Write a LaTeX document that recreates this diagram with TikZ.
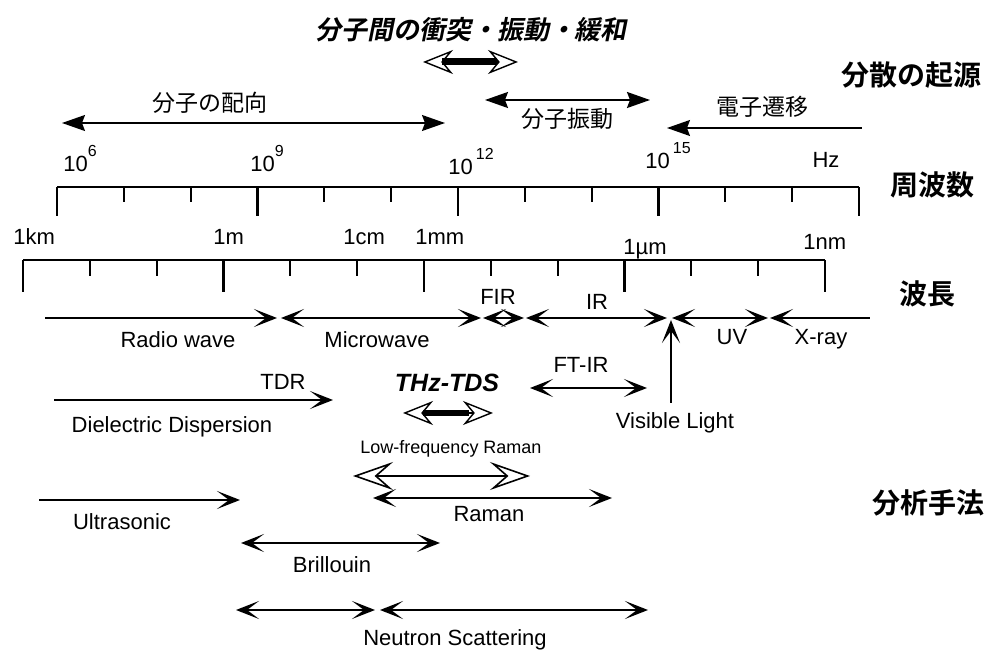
\documentclass[tikz,border=0pt]{standalone}
\usepackage{fontspec}
\setmainfont{Liberation Sans}
\newfontfamily\jpfont{Noto Sans CJK JP}
\newfontfamily\jpbold{Noto Sans CJK JP Bold}
\newfontfamily\jptitle[FakeSlant=0.2]{Noto Sans CJK JP Bold}
\usetikzlibrary{arrows.meta, positioning}
\newcommand\expo[1]{\raisebox{7.5pt}{\fontsize{8}{8}\selectfont #1}}

\tikzset{
  barbtip/.tip={Stealth[length=11.5pt, width=9pt, inset=6pt]},
  disptip/.tip={Stealth[length=11.5pt, width=8pt, inset=1.5pt]},
  holtip/.tip={Stealth[open, fill=white, length=15pt, width=12pt, inset=5pt]},
  bigholtip/.tip={Stealth[open, fill=white, length=20pt, width=14pt, inset=8pt]}
}

\begin{document}
\begin{tikzpicture}[x=0.5pt, y=-0.5pt,
    lbl/.style={inner sep=0pt, font=\fontsize{11}{13}\selectfont},
    jplbl/.style={inner sep=0pt, font=\jpfont\fontsize{11.5}{13}\selectfont},
    rowhead/.style={inner sep=0pt, font=\jpbold\fontsize{14}{16}\selectfont},
    axisline/.style={line width=1.1pt},
    bandline/.style={line width=0.75pt},
    displine/.style={line width=0.7pt}]
    \useasboundingbox (0,0) rectangle (987,652);

    % Headings on the right
    \node[rowhead] (hOrigin) at (911,75)  {分散の起源};
    \node[rowhead] (hFreq)   at (932,185) {周波数};
    \node[rowhead] (hWave)   at (927,294) {波長};
    \node[rowhead] (hMethod) at (928,503) {分析手法};

    % Origin of dispersion
    \node[inner sep=0pt, font=\jptitle\fontsize{13}{15}\selectfont] (title) at (471,30) {分子間の衝突・振動・緩和};
    \coordinate (col1) at (423,62);  \coordinate (col2) at (518,62);
    \coordinate (col3) at (442,62);  \coordinate (col4) at (497,62);
    \draw[line width=0.7pt, holtip-holtip] (col1) -- (col2);
    \draw[line width=3.5pt] (col3) -- (col4);

    \node[jplbl] (ori) at (210,103) {分子の配向};
    \coordinate (ori1) at (62,123);  \coordinate (ori2) at (445,123);
    \draw[displine, disptip-disptip] (ori1) -- (ori2);

    \node[jplbl] (vib) at (567,119) {分子振動};
    \coordinate (vib1) at (485,100); \coordinate (vib2) at (650,100);
    \draw[displine, line width=0.9pt, disptip-disptip] (vib1) -- (vib2);

    \node[jplbl] (ele) at (762,107) {電子遷移};
    \coordinate (ele1) at (667,128); \coordinate (ele2) at (862,128);
    \draw[displine, disptip-] (ele1) -- (ele2);

    % Frequency axis
    \draw[axisline] (57,187) -- (859,187);
    \foreach \i in {0,...,12}{
      \pgfmathsetmacro\tx{57+66.83*\i}
      \pgfmathsetmacro\tl{mod(\i,3)==0 ? 29 : 15}
      \draw[axisline] (\tx,187) -- ++(0,\tl);
    }
    \node[lbl, anchor=base west] (f6)  at (63,172)  {10\expo{6}};
    \node[lbl, anchor=base west] (f9)  at (250,172) {10\expo{9}};
    \node[lbl, anchor=base west] (f12) at (448,175) {10\kern1.5pt\expo{12}};
    \node[lbl, anchor=base west] (f15) at (645,169) {10\kern1.5pt\expo{15}};
    \node[lbl, anchor=base] (hz) at (826,168) {Hz};

    % Wavelength axis
    \draw[axisline] (23,260) -- (825,260);
    \foreach \i in {0,...,12}{
      \pgfmathsetmacro\tx{23+66.83*\i}
      \pgfmathsetmacro\tl{mod(\i,3)==0 ? 32 : 16}
      \draw[axisline] (\tx,260) -- ++(0,\tl);
    }
    \node[lbl, anchor=base west] (w1km) at (13,245)  {1km};
    \node[lbl, anchor=base west] (w1m)  at (213,245) {1m};
    \node[lbl, anchor=base west] (w1cm) at (343,245) {1cm};
    \node[lbl, anchor=base west] (w1mm) at (415,245) {1mm};
    \node[lbl, anchor=base west] (w1um) at (623,255) {1µm};
    \node[lbl, anchor=base west] (w1nm) at (803,250) {1nm};

    % Spectral regions
    \coordinate (rw1) at (45,318);  \coordinate (rw2) at (277,318);
    \coordinate (mw1) at (281,318); \coordinate (mw2) at (481,318);
    \coordinate (fir1) at (483,318); \coordinate (fir2) at (524,318);
    \coordinate (ir1) at (526,318); \coordinate (ir2) at (667,318);
    \coordinate (uv1) at (672,318); \coordinate (uv2) at (768,318);
    \coordinate (xr1) at (770,318); \coordinate (xr2) at (870,318);
    \draw[bandline, -barbtip] (rw1) -- (rw2);
    \draw[bandline, barbtip-barbtip] (mw1) -- (mw2);
    \draw[bandline, barbtip-barbtip] (fir1) -- (fir2);
    \draw[bandline, barbtip-barbtip] (ir1) -- (ir2);
    \draw[bandline, barbtip-barbtip] (uv1) -- (uv2);
    \draw[bandline, barbtip-] (xr1) -- (xr2);
    \node[lbl, anchor=base] (radio) at (178,348) {Radio wave};
    \node[lbl, anchor=base] (micro) at (377,348) {Microwave};
    \node[lbl, anchor=base] (fir)   at (498,305) {FIR};
    \node[lbl, anchor=base] (ir)    at (597,310) {IR};
    \node[lbl, anchor=base] (uv)    at (732,345) {UV};
    \node[lbl, anchor=base] (xray)  at (821,345) {X-ray};

    \node[lbl, anchor=base] (vis) at (675,429) {Visible Light};
    \coordinate (vis1) at (671,403); \coordinate (vis2) at (671,320);
    \draw[bandline, -barbtip] (vis1) -- (vis2);

    % Methods
    \node[lbl, anchor=base] (tdr) at (283,390) {TDR};
    \node[lbl, anchor=base] (dd)  at (172,433) {Dielectric Dispersion};
    \coordinate (tdr1) at (54,400); \coordinate (tdr2) at (333,400);
    \draw[bandline, -barbtip] (tdr1) -- (tdr2);

    \node[lbl, anchor=base, font=\bfseries\itshape\fontsize{12.5}{14}\selectfont] (thz) at (447,392) {THz-TDS};
    \coordinate (thz1) at (403,413); \coordinate (thz2) at (493,413);
    \coordinate (thz3) at (423,413); \coordinate (thz4) at (469,413);
    \draw[line width=0.7pt, holtip-holtip] (thz1) -- (thz2);
    \draw[line width=3.2pt] (thz3) -- (thz4);

    \node[lbl, anchor=base, font=\fontsize{9}{11}\selectfont] (lfr) at (451,454) {Low-frequency Raman};
    \coordinate (lf1) at (353,476); \coordinate (lf2) at (530,476);
    \draw[line width=0.8pt, bigholtip-bigholtip] (lf1) -- (lf2);

    \node[lbl, anchor=base] (ftir) at (581,373) {FT-IR};
    \coordinate (ft1) at (530,388); \coordinate (ft2) at (647,388);
    \draw[bandline, barbtip-barbtip] (ft1) -- (ft2);

    \node[lbl, anchor=base] (raman) at (489,522) {Raman};
    \coordinate (ra1) at (373,498); \coordinate (ra2) at (612,498);
    \draw[bandline, barbtip-barbtip] (ra1) -- (ra2);

    \node[lbl, anchor=base] (us) at (122,530) {Ultrasonic};
    \coordinate (us1) at (39,500); \coordinate (us2) at (240,500);
    \draw[bandline, -barbtip] (us1) -- (us2);

    \node[lbl, anchor=base] (bri) at (332,573) {Brillouin};
    \coordinate (br1) at (241,543); \coordinate (br2) at (440,543);
    \draw[bandline, barbtip-barbtip] (br1) -- (br2);

    \node[lbl, anchor=base] (neu) at (455,646) {Neutron Scattering};
    \coordinate (ns1) at (236,610); \coordinate (ns2) at (375,610);
    \coordinate (ns3) at (380,610); \coordinate (ns4) at (648,610);
    \draw[line width=1.1pt, barbtip-barbtip] (ns1) -- (ns2);
    \draw[bandline, barbtip-barbtip] (ns3) -- (ns4);

\end{tikzpicture}
\end{document}
